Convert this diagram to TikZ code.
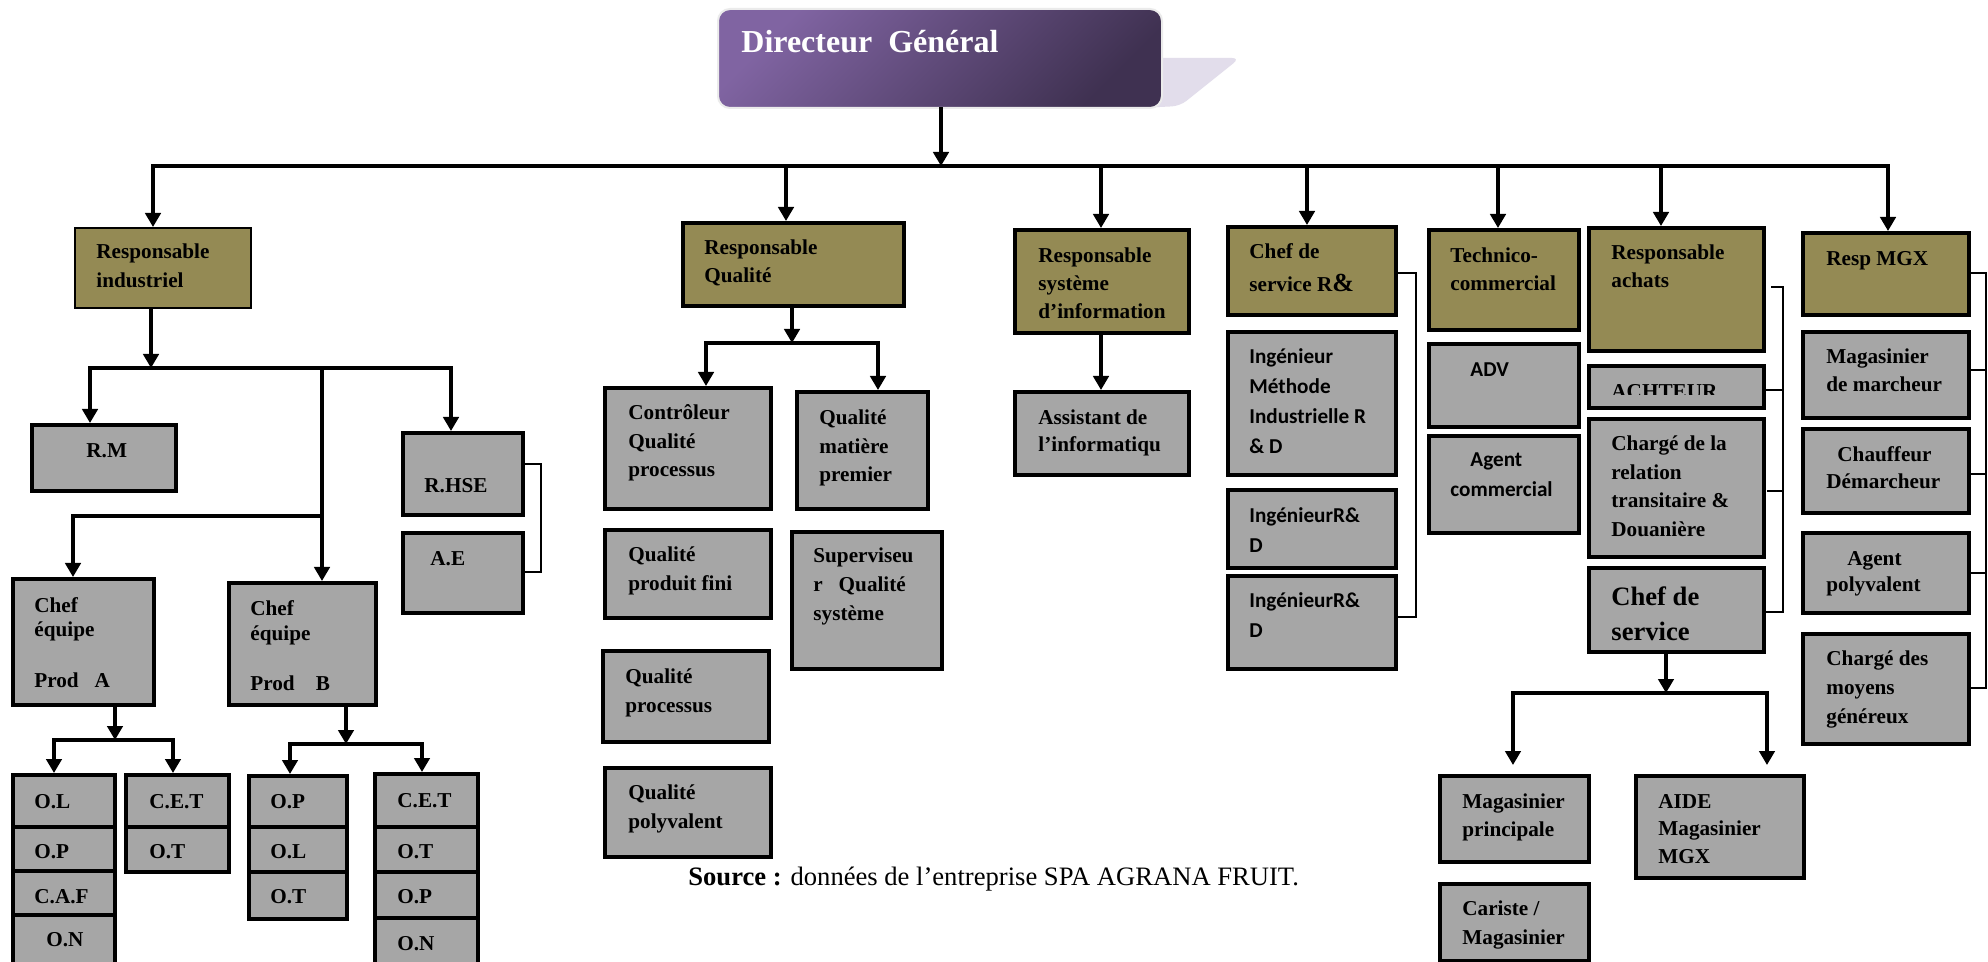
\documentclass[tikz,border=0pt]{standalone}
\usepackage{fontspec}
\setmainfont{Liberation Serif}
\newfontfamily\calfont{Carlito}
\usetikzlibrary{arrows.meta,fit}
\definecolor{oliveB}{HTML}{948A54}
\definecolor{grayB}{HTML}{A6A6A6}
\definecolor{dgA}{HTML}{8064A2}
\definecolor{dgB}{HTML}{3F3151}
\definecolor{shad}{HTML}{E2DDEB}
\newcommand\ml[2][14.25pt]{\vtop{\baselineskip=#1\relax\halign{##\hfil\cr#2\crcr}}}
\tikzset{
  gbox/.style={draw=black, fill=grayB, line width=2pt, inner sep=0pt},
  obox/.style={draw=black, fill=oliveB, line width=2pt, inner sep=0pt},
  conn/.style={line width=1.65pt, line cap=rect},
  arr/.style={conn, -{Triangle[length=7pt,width=7.7pt]}},
  brk/.style={line width=0.9pt},
  tx/.style={anchor=base west, inner sep=0pt, font=\bfseries\fontsize{10.6}{14.25}\selectfont},
  txc/.style={anchor=base west, inner sep=0pt, font=\calfont\bfseries\fontsize{10.6}{15}\selectfont},
}
\begin{document}
\begin{tikzpicture}[x=0.5pt,y=-0.5pt]
\useasboundingbox[fill=white] (0,0) rectangle (1988,962);
% Directeur
\fill[shad, rounded corners=4pt] (1140,58) -- (1240,58) -- (1180,106) -- (1140,108) -- cycle;
\node[fit={(718,9) (1162,108)}, inner sep=0pt, rounded corners=6pt, top color=dgA, bottom color=dgB, shading angle=45, draw=black!8, line width=1pt] (dg) {};
\node[anchor=base west, inner sep=0pt, text=white, font=\bfseries\fontsize{16}{19}\selectfont] (t-dg) at (741,53) {Directeur\ \ Général};
% level 1 boxes
\node[obox, line width=1pt, fit={(75,228) (251,308)}] (ri) {};
\node[obox, fit={(683,223) (904,306)}] (rq) {};
\node[obox, fit={(1015,230) (1189,333)}] (si) {};
\node[obox, fit={(1228,227) (1396,315)}] (rd) {};
\node[obox, fit={(1429,230) (1579,330)}] (tech) {};
\node[obox, fit={(1589,228) (1764,351)}] (ach) {};
\node[obox, fit={(1803,233) (1969,315)}] (mgx) {};
% industriel branch
\node[gbox, fit={(32,425) (176,491)}] (rm) {};
\node[gbox, fit={(403,433) (523,515)}] (rhse) {};
\node[gbox, fit={(403,533) (523,613)}] (ae) {};
\node[gbox, fit={(12.5,579) (154,705)}] (ca) {};
\node[gbox, fit={(229,583) (376,705)}] (cb) {};
\node[gbox, fit={(12.5,775) (115,827)}] (a1) {};
\node[gbox, fit={(12.5,827) (115,871)}] (a2) {};
\node[gbox, fit={(12.5,871) (115,915)}] (a3) {};
\node[gbox, fit={(12.5,915) (115,968)}] (a4) {};
\node[gbox, fit={(126,775) (229,827)}] (a5) {};
\node[gbox, fit={(126,827) (229,872)}] (a6) {};
\node[gbox, fit={(249,776) (347,827)}] (b1) {};
\node[gbox, fit={(249,827) (347,872)}] (b2) {};
\node[gbox, fit={(249,872) (347,919)}] (b3) {};
\node[gbox, fit={(375,774) (478,827)}] (b4) {};
\node[gbox, fit={(375,827) (478,872)}] (b5) {};
\node[gbox, fit={(375,872) (478,918)}] (b6) {};
\node[gbox, fit={(375,918) (478,968)}] (b7) {};
% qualite branch
\node[gbox, fit={(605,388) (771,509)}] (ctrl) {};
\node[gbox, fit={(797,392) (928,509)}] (qmp) {};
\node[gbox, fit={(605,530) (771,618)}] (qpf) {};
\node[gbox, fit={(792,532) (942,669)}] (sup) {};
\node[gbox, fit={(603,651) (769,742)}] (qproc) {};
\node[gbox, fit={(605,768) (771,857)}] (qpoly) {};
% SI
\node[gbox, fit={(1015,392) (1189,475)}] (asst) {};
% R&D
\node[gbox, fit={(1228,332) (1396,475)}] (ing1) {};
\node[gbox, fit={(1228,490) (1396,568)}] (ing2) {};
\node[gbox, fit={(1228,576) (1396,669)}] (ing3) {};
% technico
\node[gbox, fit={(1429,344) (1579,427)}] (adv) {};
\node[gbox, fit={(1429,436) (1579,533)}] (agc) {};
% achats
\node[gbox, fit={(1589,366) (1764,408)}] (acht) {};
\node[gbox, fit={(1589,419) (1764,557)}] (crel) {};
\node[gbox, fit={(1589,568) (1764,652)}] (cs) {};
\node[gbox, fit={(1440,776) (1589,862)}] (mp) {};
\node[gbox, fit={(1636,776) (1804,878)}] (aide) {};
\node[gbox, fit={(1440,884) (1589,961)}] (car) {};
% MGX
\node[gbox, fit={(1803,332) (1969,418)}] (mdm) {};
\node[gbox, fit={(1803,429) (1969,513)}] (chd) {};
\node[gbox, fit={(1803,533) (1969,613)}] (agp) {};
\node[gbox, fit={(1803,634) (1969,744)}] (cmg) {};

% ---- texts
\node[tx] (t-ri) at (96,259) {\ml[14.5pt]{Responsable\cr industriel}};
\node[tx] (t-rm) at (86,458) {R.M};
\node[tx] (t-rhse) at (424,493) {R.HSE};
\node[tx] (t-ae) at (430,566) {A.E};
\node[tx] (t-ca) at (34,612) {\ml[12.5pt]{Chef\cr équipe\cr \cr Prod\ \ \ A}};
\node[tx] (t-cb) at (250,616) {\ml[12.5pt]{Chef\cr équipe\cr \cr Prod\ \ \ \ B}};
\node[tx] (t-a1) at (34,808) {O.L};
\node[tx] (t-a2) at (34,858) {O.P};
\node[tx] (t-a3) at (34,903) {C.A.F};
\node[tx] (t-a4) at (46,946) {O.N};
\node[tx] (t-a5) at (149,808) {C.E.T};
\node[tx] (t-a6) at (149,858) {O.T};
\node[tx] (t-b1) at (270,808) {O.P};
\node[tx] (t-b2) at (270,858) {O.L};
\node[tx] (t-b3) at (270,903) {O.T};
\node[tx] (t-b4) at (397,807) {C.E.T};
\node[tx] (t-b5) at (397,858) {O.T};
\node[tx] (t-b6) at (397,903) {O.P};
\node[tx] (t-b7) at (397,950) {O.N};
\node[tx] (t-rq) at (704,255) {\ml[14pt]{Responsable\cr Qualité}};
\node[tx] (t-ctrl) at (628,420) {\ml{Contrôleur\cr Qualité\cr processus}};
\node[tx] (t-qmp) at (819,425) {\ml{Qualité\cr matière\cr premier}};
\node[tx] (t-qpf) at (628,562) {\ml[14pt]{Qualité\cr produit fini}};
\node[tx] (t-sup) at (813,563) {\ml{Superviseu\cr r\ \ \ Qualité\cr système}};
\node[tx] (t-qproc) at (625,683) {\ml[14.5pt]{Qualité\cr processus}};
\node[tx] (t-qpoly) at (628,799) {\ml[14.5pt]{Qualité\cr polyvalent}};
\node[tx] (t-si) at (1038,263) {\ml[14pt]{Responsable\cr système\cr d’information}};
\node[tx] (t-asst) at (1038,425) {\ml[13.5pt]{Assistant de\cr l’informatiqu}};
\node[tx] (t-rd) at (1249,259) {\ml[16.5pt]{Chef de\cr service R{\fontsize{13}{13}\selectfont\&}}};
\node[txc] (t-ing1) at (1249,364) {\ml[15pt]{Ingénieur\cr Méthode\cr Industrielle R\cr \& D}};
\node[txc] (t-ing2) at (1249,523) {\ml[15pt]{IngénieurR\&\cr D}};
\node[txc] (t-ing3) at (1249,608) {\ml[15pt]{IngénieurR\&\cr D}};
\node[tx] (t-tech) at (1450,263) {\ml[14pt]{Technico-\cr commercial}};
\node[txc] (t-adv) at (1470,377) {ADV};
\node[txc] (t-agc) at (1450,467) {\ml[15pt]{\hskip10pt Agent\cr commercial}};
\node[tx] (t-ach) at (1611,260) {\ml[14pt]{Responsable\cr achats}};
\begin{scope}
\clip (1589,366) rectangle (1764,395);
\node[tx] (t-acht) at (1611,399) {ACHTEUR};
\end{scope}
\node[tx] (t-crel) at (1611,451) {\ml{Chargé de la\cr relation\cr transitaire \&\cr Douanière}};
\node[tx, font=\bfseries\fontsize{13.3}{17.5}\selectfont] (t-cs) at (1611,605) {\ml[17.5pt]{Chef de\cr service}};
\node[tx] (t-mgx) at (1826,266) {Resp MGX};
\node[tx] (t-mdm) at (1826,364) {\ml[14pt]{Magasinier\cr de marcheur}};
\node[tx] (t-chd) at (1826,462) {\ml[13.5pt]{\hskip5.5pt Chauffeur\cr Démarcheur}};
\node[tx] (t-agp) at (1826,566) {\ml[13pt]{\hskip10.5pt Agent\cr polyvalent}};
\node[tx] (t-cmg) at (1826,666) {\ml[14.25pt]{Chargé des\cr moyens\cr généreux}};
\node[tx] (t-mp) at (1462,808) {\ml[14pt]{Magasinier\cr principale}};
\node[tx] (t-aide) at (1658,808) {\ml[13.75pt]{AIDE\cr Magasinier\cr MGX}};
\node[tx] (t-car) at (1462,915) {\ml[14.5pt]{Cariste /\cr Magasinier}};
\node[anchor=base west, inner sep=0pt, font=\fontsize{13.3}{16}\selectfont] (src) at (688,885) {\textbf{Source :} données de l’entreprise SPA AGRANA FRUIT.};

% ---- connectors
\coordinate (dgb) at (941,166);
\draw[arr] (dg.south -| dgb) -- (dgb);
\coordinate (busL) at (153,166);
\coordinate (busR) at (1888,166);
\draw[conn] (busL) -- (busR);
\draw[arr] (busL) -- (busL |- ri.north);
\coordinate (k-rq) at (786,166);
\coordinate (k-si) at (1101,166);
\coordinate (k-rd) at (1307,166);
\coordinate (k-tech) at (1498,166);
\coordinate (k-ach) at (1661,166);
\draw[arr] (k-rq) -- (k-rq |- rq.north);
\draw[arr] (k-si) -- (k-si |- si.north);
\draw[arr] (k-rd) -- (k-rd |- rd.north);
\draw[arr] (k-tech) -- (k-tech |- tech.north);
\draw[arr] (k-ach) -- (k-ach |- ach.north);
\draw[arr] (busR) -- (busR |- mgx.north);
% industriel
\coordinate (ri-j) at (151,368);
\draw[arr] (ri.south -| ri-j) -- (ri-j);
\coordinate (ri-L) at (90,368);
\coordinate (ri-R) at (451,368);
\coordinate (ri-M) at (322,368);
\draw[conn] (ri-L) -- (ri-R);
\draw[arr] (ri-L) -- (ri-L |- rm.north);
\draw[arr] (ri-R) -- (ri-R |- rhse.north);
\draw[arr] (ri-M) -- (ri-M |- cb.north);
\coordinate (ch-j) at (322,516);
\coordinate (ch-L) at (73,516);
\draw[arr] (ch-j) -- (ch-L) -- (ch-L |- ca.north);
\coordinate (h1) at (541,464);
\coordinate (h2) at (541,572);
\draw[brk] (h1 -| rhse.east) -- (h1) -- (h2) -- (h2 -| ae.east);
% chef A
\coordinate (ca-j) at (115,740);
\coordinate (ca-L) at (54,740);
\coordinate (ca-R) at (173,740);
\draw[arr] (ca.south -| ca-j) -- (ca-j);
\draw[conn] (ca-L) -- (ca-R);
\draw[arr] (ca-L) -- (ca-L |- a1.north);
\draw[arr] (ca-R) -- (ca-R |- a5.north);
% chef B
\coordinate (cb-j) at (346,744);
\coordinate (cb-L) at (290,744);
\coordinate (cb-R) at (422,744);
\draw[arr] (cb.south -| cb-j) -- (cb-j);
\draw[conn] (cb-L) -- (cb-R);
\draw[arr] (cb-L) -- (cb-L |- b1.north);
\draw[arr] (cb-R) -- (cb-R |- b4.north);
% qualite
\coordinate (rq-j) at (792,343);
\coordinate (rq-L) at (706,343);
\coordinate (rq-R) at (878,343);
\draw[arr] (rq.south -| rq-j) -- (rq-j);
\draw[conn] (rq-L) -- (rq-R);
\draw[arr] (rq-L) -- (rq-L |- ctrl.north);
\draw[arr] (rq-R) -- (rq-R |- qmp.north);
% SI
\draw[arr] (si.south -| k-si) -- (k-si |- asst.north);
% R&D bracket
\coordinate (d1) at (1416,273);
\coordinate (d2) at (1416,617);
\draw[brk] (d1 -| rd.east) -- (d1) -- (d2) -- (d2 -| ing3.east);
% achats bracket
\coordinate (e1) at (1783,287);
\coordinate (e2) at (1783,612);
\coordinate (e3) at (1783,390);
\coordinate (e4) at (1783,491);
\draw[line width=1.3pt] ([xshift=-6pt]e1) -- (e1) -- (e2) -- ([xshift=-8.5pt]e2);
\draw[brk] (e3 -| acht.east) -- (e3);
\draw[brk] ([xshift=-8pt]e4) -- (e4);
% chef de service achats
\coordinate (cs-j) at (1666,693);
\coordinate (cs-L) at (1513,693);
\coordinate (cs-R) at (1767,693);
\draw[arr] (cs.south -| cs-j) -- (cs-j);
\draw[conn] (cs-L) -- (cs-R);
\draw[arr, shorten >=4.5pt] (cs-L) -- (cs-L |- mp.north);
\draw[arr, shorten >=4.5pt] (cs-R) -- (cs-R |- aide.north);
% MGX bracket
\coordinate (m1) at (1986,273);
\coordinate (m2) at (1986,688);
\draw[brk] (m1 -| mgx.east) -- (m1) -- (m2) -- (m2 -| cmg.east);
\coordinate (m3) at (1986,370);
\coordinate (m4) at (1986,474);
\coordinate (m5) at (1986,573);
\draw[brk] (m3 -| mdm.east) -- (m3);
\draw[brk] (m4 -| chd.east) -- (m4);
\draw[brk] (m5 -| agp.east) -- (m5);
\end{tikzpicture}
\end{document}
